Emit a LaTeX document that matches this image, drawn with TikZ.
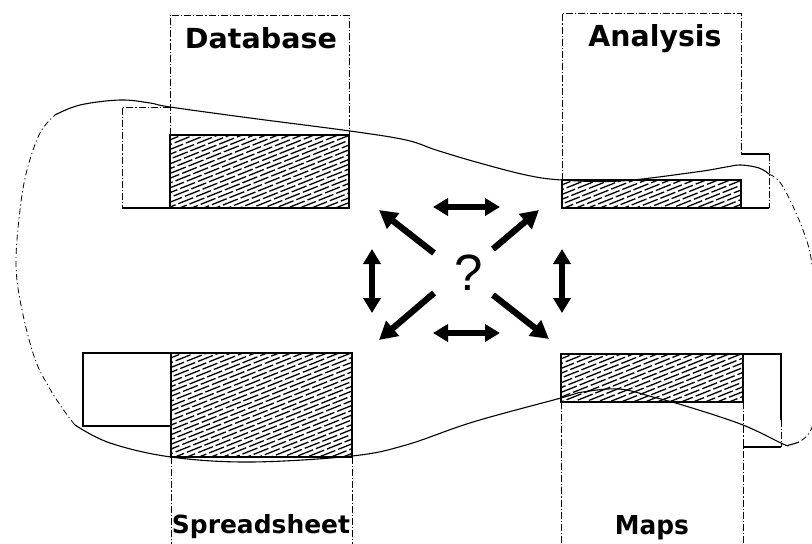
\documentclass[tikz,border=0pt]{standalone}
\usepackage{fontspec}
\setsansfont{DejaVu Sans}
\newfontfamily\qfont{Liberation Sans}
\usetikzlibrary{arrows.meta}

\tikzset{
  colline/.style={line width=0.8pt, dash pattern=on 7pt off 2pt on 1.2pt off 2pt},
  boxline/.style={line width=1.4pt},
  hatchline/.style={line width=1.3pt},
  outline/.style={line width=1.1pt},
  outlinedash/.style={line width=0.8pt, dash pattern=on 6pt off 3pt on 1.2pt off 3pt},
  bigarrow/.style={line width=6.3pt, -{Triangle[length=18pt,width=19pt]}},
  dblarrow/.style={line width=5.8pt, {Triangle[length=15pt,width=17pt]}-{Triangle[length=15pt,width=17pt]}},
  lbl/.style={inner sep=0pt, anchor=base},
}

% hatched band: x1,y1,x2,y2 (y grows downwards)
\newcommand\hatchrect[4]{%
  \begin{scope}
    \clip (#1,#2) rectangle (#3,#4);
    \foreach \c in {0,...,48}{%
      \pgfmathsetmacro\ph{mod(\c*7,19)}%
      \draw[hatchline, dash pattern=on 16pt off 3pt, dash phase=\ph pt]
        ({#1},{#2+4.8*\c}) -- ({#3},{#2+4.8*\c-0.4*(#3-#1)});
    }
  \end{scope}
  \draw[boxline] (#1,#2) rectangle (#3,#4);
}

\begin{document}
\begin{tikzpicture}[x=1pt,y=-1pt]
  \useasboundingbox (0,0) rectangle (812,544);
  \fill[white] (0,0) rectangle (812,544);

  % ---- Database (top left)
  \draw[colline] (170,135) -- (170,15) -- (349,15) -- (349,135);
  \hatchrect{170}{135}{349}{208}
  \draw[colline] (170,107) -- (122,107) -- (122,208);
  \draw[boxline] (122,208) -- (170,208);
  \node[lbl] (dbLabel) at (261,48) {\resizebox{152pt}{21pt}{\sffamily\bfseries Database}};

  % ---- Analysis (top right)
  \draw[colline] (562,180) -- (562,13) -- (741,13) -- (741,154);
  \hatchrect{562}{180}{741}{208}
  \draw[outline] (741,154) -- (769,154);
  \draw[colline] (769,154) -- (769,208);
  \draw[boxline] (741,208) -- (769,208);
  \node[lbl] (anLabel) at (655,46) {\resizebox{133pt}{22pt}{\sffamily\bfseries Analysis}};

  % ---- Spreadsheet (bottom left)
  \hatchrect{171}{353}{352}{457}
  \draw[outline] (83,353) rectangle (171,426);
  \draw[colline] (171,457) -- (171,544);
  \draw[colline] (352,457) -- (352,544);
  \node[lbl] (ssLabel) at (261,533) {\resizebox{178pt}{19pt}{\sffamily\bfseries Spreadsheet}};

  % ---- Maps (bottom right)
  \hatchrect{561}{354}{743}{402}
  \draw[outline] (743,354) -- (781,354) -- (781,420);
  \draw[colline] (781,420) -- (781,447);
  \draw[outline] (743,447) -- (781,447);
  \draw[colline] (561,402) -- (561,544);
  \draw[colline] (743,402) -- (743,544);
  \node[lbl] (mpLabel) at (652,534) {\resizebox{74pt}{19pt}{\sffamily\bfseries Maps}};

  % ---- enclosing outline
  \begin{scope}
    \clip (0,0) rectangle (812,544);
    \draw[outline] plot[smooth, tension=0.6] coordinates {
      (55,115) (80,105) (120,100) (150,103) (170,107) (250,118) (350,131)
      (406,140) (436,150) (476,162) (526,175) (562,180) (620,181) (696,172)
      (726,167) (741,165) (759,168) (769,174)};
    \draw[outlinedash] plot[smooth, tension=0.6] coordinates {
      (769,174) (779,181) (790,200) (803,230) (811,258) (815,300) (816,360)
      (815,410) (810,432) (799,442)};
    \draw[outline] plot[smooth, tension=0.6] coordinates {
      (799,442) (789,445) (783,444) (743,425) (689,407) (653,397) (619,389)
      (583,392) (561,398) (473,422) (406,445) (352,456) (250,462) (171,457)
      (110,443) (75,425)};
    \draw[outlinedash] plot[smooth, tension=0.6] coordinates {
      (75,425) (65,412) (50,389) (35,359) (22,310) (16,265) (20,210)
      (27,170) (40,133) (55,115)};
  \end{scope}

  % ---- centre question and relations
  \node[inner sep=0pt] (q) at (469,273) {\qfont\fontsize{51}{51}\selectfont ?};

  \coordinate (ulA) at (434,253); \coordinate (ulB) at (379,210);
  \coordinate (urA) at (493,249); \coordinate (urB) at (539,210);
  \coordinate (llA) at (434,293); \coordinate (llB) at (379,340);
  \coordinate (lrA) at (493,295); \coordinate (lrB) at (549,339);
  \coordinate (tA) at (433,207);  \coordinate (tB) at (500,207);
  \coordinate (bA) at (433,333);  \coordinate (bB) at (500,333);
  \coordinate (lA) at (372,249);  \coordinate (lB) at (372,313);
  \coordinate (rA) at (562,249);  \coordinate (rB) at (562,313);

  \draw[bigarrow] (ulA) -- (ulB);
  \draw[bigarrow] (urA) -- (urB);
  \draw[bigarrow] (llA) -- (llB);
  \draw[bigarrow] (lrA) -- (lrB);
  \draw[dblarrow] (tA) -- (tB);
  \draw[dblarrow] (bA) -- (bB);
  \draw[dblarrow] (lA) -- (lB);
  \draw[dblarrow] (rA) -- (rB);
\end{tikzpicture}
\end{document}
